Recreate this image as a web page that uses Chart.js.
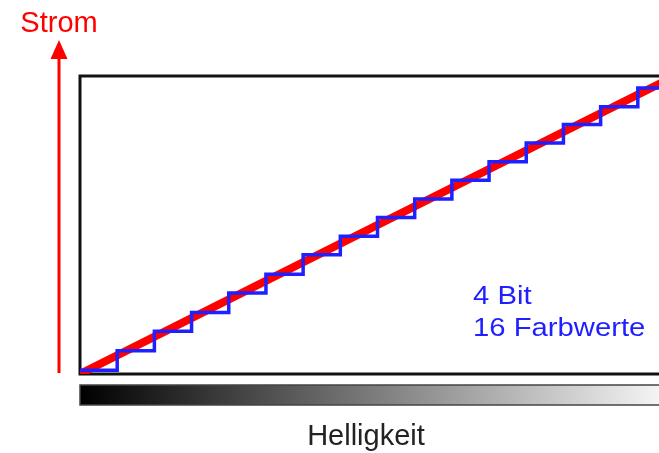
<!DOCTYPE html>
<html lang="de">
<head>
  <meta charset="UTF-8" />
  <title>Strom und Helligkeit</title>
  <script src="https://cdn.jsdelivr.net/npm/chart.js"></script>
  <style>
    body {
      margin: 0;
      background: #fff;
      overflow: hidden;
      font-family: "Liberation Sans", Arial, sans-serif;
    }
    #wrap {
      position: relative;
      width: 700px;
      height: 453px;
    }
    .label {
      position: absolute;
      white-space: nowrap;
      line-height: 1;
    }
    #strom {
      left: 59px;
      top: 8px;
      font-size: 29px;
      color: #ff0000;
      transform: translateX(-50%);
    }
    #helligkeit {
      left: 366px;
      top: 421px;
      font-size: 29px;
      color: #222;
      transform: translateX(-50%);
    }
    #info {
      left: 473px;
      top: 279px;
      font-size: 25px;
      line-height: 32px;
      color: #1f1fff;
      transform: scaleX(1.17);
      transform-origin: left top;
    }
  </style>
</head>
<body>
  <div id="wrap">
    <canvas id="chart" width="700" height="453"></canvas>
    <div class="label" id="strom">Strom</div>
    <div class="label" id="helligkeit">Helligkeit</div>
    <div class="label" id="info">4 Bit<br>16 Farbwerte</div>
  </div>

  <script>
    // 16 Helligkeitsstufen (4 Bit)
    const steps = [0, 1, 2, 3, 4, 5, 6, 7, 8, 9, 10, 11, 12, 13, 14, 15, 16];
    // Strom je Stufe (letzter Wert wird bis zum Rand weitergeführt)
    const stepCurrent = [0.2, 1.25, 2.3, 3.3, 4.35, 5.35, 6.4, 7.4, 8.4, 9.4, 10.4, 11.4, 12.4, 13.4, 14.35, 15.35, 15.35];
    // ideale, stufenlose Kennlinie
    const idealX = [0, 16];
    const idealY = [0, 16];

    const stepData = steps.map((x, i) => ({ x: x, y: stepCurrent[i] }));
    const idealData = idealX.map((x, i) => ({ x: x, y: idealY[i] }));

    // Rahmen um die Zeichenfläche
    const frame = {
      id: 'frame',
      beforeDatasetsDraw(chart) {
        const { ctx, chartArea: a } = chart;
        ctx.save();
        ctx.strokeStyle = '#111';
        ctx.lineWidth = 3;
        ctx.strokeRect(a.left, a.top, a.right - a.left, a.bottom - a.top);
        ctx.restore();
      }
    };

    // Graukeil unter der x-Achse und Strompfeil links
    const extras = {
      id: 'extras',
      afterDraw(chart) {
        const { ctx, chartArea: a } = chart;
        ctx.save();

        const top = a.bottom + 11;
        const h = 20;
        const grad = ctx.createLinearGradient(a.left, 0, a.right + 10, 0);
        grad.addColorStop(0, '#000');
        grad.addColorStop(1, '#fff');
        ctx.fillStyle = grad;
        ctx.fillRect(a.left, top, a.right - a.left, h);
        ctx.strokeStyle = '#444';
        ctx.lineWidth = 1.5;
        ctx.strokeRect(a.left, top, a.right - a.left, h);

        const ax = a.left - 21;
        ctx.strokeStyle = '#ff0000';
        ctx.fillStyle = '#ff0000';
        ctx.lineWidth = 3;
        ctx.beginPath();
        ctx.moveTo(ax, a.bottom - 1);
        ctx.lineTo(ax, a.top - 20);
        ctx.stroke();
        ctx.beginPath();
        ctx.moveTo(ax, a.top - 36);
        ctx.lineTo(ax - 8.5, a.top - 17);
        ctx.lineTo(ax + 8.5, a.top - 17);
        ctx.closePath();
        ctx.fill();

        ctx.restore();
      }
    };

    const ctx = document.getElementById('chart').getContext('2d');
    new Chart(ctx, {
      type: 'line',
      data: {
        datasets: [
          {
            label: '4 Bit',
            data: stepData,
            stepped: 'before',
            borderColor: '#1f1fff',
            borderWidth: 3.5,
            pointRadius: 0,
            fill: false,
            order: 0
          },
          {
            label: 'ideal',
            data: idealData,
            borderColor: '#ff0000',
            borderWidth: 8,
            pointRadius: 0,
            fill: false,
            order: 1
          }
        ]
      },
      options: {
        responsive: false,
        animation: false,
        layout: {
          padding: { left: 80, top: 76, right: 25, bottom: 79 }
        },
        scales: {
          x: { type: 'linear', min: 0, max: 16, display: false },
          y: { type: 'linear', min: 0, max: 16, display: false }
        },
        plugins: {
          legend: { display: false },
          tooltip: { enabled: false }
        }
      },
      plugins: [frame, extras]
    });
  </script>
</body>
</html>
